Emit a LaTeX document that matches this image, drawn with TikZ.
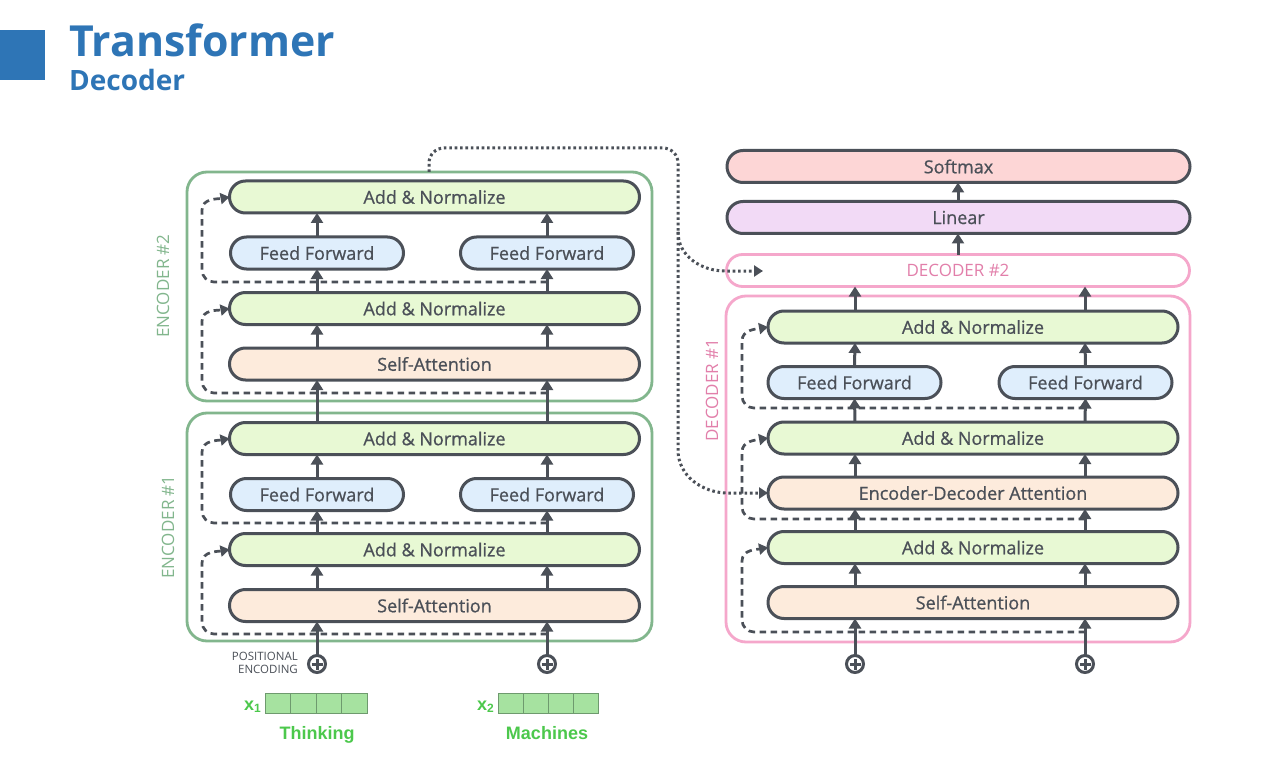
\documentclass[tikz,border=0pt]{standalone}
\usepackage{fontspec}
\setmainfont{Open Sans}
\newfontfamily\boxfont{Open Sans}[FakeBold=0.8]
\newfontfamily\arialfont{Liberation Sans}
\usetikzlibrary{arrows.meta,calc}
\definecolor{dgray}{HTML}{4B5058}
\definecolor{tblue}{HTML}{2E75B6}
\definecolor{encgreen}{HTML}{82B68D}
\definecolor{decpink}{HTML}{F5A7CB}
\definecolor{decpinktxt}{HTML}{E27FAA}
\definecolor{anfill}{HTML}{E8F9D4}
\definecolor{fffill}{HTML}{DFEEFC}
\definecolor{safill}{HTML}{FDEBDC}
\definecolor{smfill}{HTML}{FDD6D6}
\definecolor{linfill}{HTML}{F2DAF6}
\definecolor{vecfill}{HTML}{A6E2A0}
\definecolor{vecline}{HTML}{6E9A6E}
\definecolor{wordgreen}{HTML}{4CC84C}
\begin{document}
\begin{tikzpicture}[x=1pt,y=-1pt,
  blk/.style={draw=dgray, line width=3pt, rounded corners=16pt, minimum height=32pt,
    inner sep=0pt, outer sep=0pt, text=dgray, font=\boxfont\fontsize{18}{18}\selectfont},
  anbox/.style={blk, fill=anfill, minimum width=410pt},
  sabox/.style={blk, fill=safill, minimum width=410pt},
  ffbox/.style={blk, fill=fffill, minimum width=173pt},
  encbox/.style={draw=encgreen, line width=2.8pt, rounded corners=20pt, minimum width=465pt, inner sep=0pt, outer sep=0pt},
  decbox/.style={draw=decpink, line width=2.8pt, rounded corners=20pt, inner sep=0pt, outer sep=0pt},
  up/.style={draw=dgray, line width=3pt, -{Triangle[length=10pt,width=12pt]}},
  resid/.style={draw=dgray, line width=2.7pt, dash pattern=on 6.5pt off 4.5pt, -{Triangle[length=9pt,width=11pt]}},
  dots/.style={draw=dgray, line width=3pt, dash pattern=on 2.6pt off 2.8pt},
  plusc/.style={circle, draw=dgray, line width=3pt, minimum size=17pt, inner sep=0pt, outer sep=0pt,
    path picture={\draw[dgray, line width=3pt] ($(path picture bounding box.center)+(-5.5pt,0)$) -- ++(11pt,0)
      ($(path picture bounding box.center)+(0,-5.5pt)$) -- ++(0,11pt);}},
  cell/.style={draw=vecline, fill=vecfill, line width=0.9pt, minimum height=20pt, inner sep=0pt},
  word/.style={text=wordgreen, anchor=base, inner sep=0pt, font=\arialfont\bfseries\fontsize{18}{18}\selectfont},
  vlabel/.style={rotate=90, font=\fontsize{17}{17}\selectfont},
]
\useasboundingbox (0,0) rectangle (1269,770);
\fill[white] (0,0) rectangle (1269,770);

% ---------- title ----------
\fill[tblue] (0,30) rectangle (45,80);
\node[anchor=base west, inner sep=0pt, text=tblue, font=\bfseries\fontsize{42.8}{42.8}\selectfont] (title) at (69,57) {Transformer};
\node[anchor=base west, inner sep=0pt, text=tblue, font=\bfseries\fontsize{28}{28}\selectfont] (subtitle) at (69,91) {Decoder};

% column coordinates
\coordinate (cL) at (317,0);
\coordinate (cR) at (547,0);
\coordinate (dL) at (855,0);
\coordinate (dR) at (1085,0);
\coordinate (dM) at (958,0);

% ---------- encoders ----------
\node[encbox, minimum height=229pt] (enc2) at (419.5,286.5) {};
\node[encbox, minimum height=228pt] (enc1) at (419.5,527) {};
\node[vlabel, text=encgreen] (enc2lbl) at (163,286) {ENCODER \#2};
\node[vlabel, text=encgreen] (enc1lbl) at (168,527) {ENCODER \#1};

% encoder 2 blocks
\node[anbox] (e2an2) at (434.5,197) {Add \& Normalize};
\node[ffbox] (e2ffL) at (317,253) {Feed Forward};
\node[ffbox] (e2ffR) at (547,253) {Feed Forward};
\node[anbox] (e2an1) at (434.5,308.5) {Add \& Normalize};
\node[sabox] (e2sa) at (434.5,364) {Self-Attention};
% encoder 1 blocks
\node[anbox] (e1an2) at (434.5,438.5) {Add \& Normalize};
\node[ffbox] (e1ffL) at (317,494.5) {Feed Forward};
\node[ffbox] (e1ffR) at (547,494.5) {Feed Forward};
\node[anbox] (e1an1) at (434.5,549.5) {Add \& Normalize};
\node[sabox] (e1sa) at (434.5,605.5) {Self-Attention};

% plus signs and inputs (encoder)
\node[plusc] (epL) at (317,664) {};
\node[plusc] (epR) at (547,664) {};
\node[anchor=east, align=right, text=dgray, inner sep=0pt, font=\fontsize{11.5}{12.5}\selectfont] (posenc) at (298,663) {POSITIONAL\\ENCODING};

\node[cell, minimum width=25.5pt] (x1a) at (277.75,703) {};
\node[cell, minimum width=25.5pt] (x1b) at (303.25,703) {};
\node[cell, minimum width=25.5pt] (x1c) at (328.75,703) {};
\node[cell, minimum width=25.5pt] (x1d) at (354.25,703) {};
\node[cell, minimum width=25pt] (x2a) at (510.5,703) {};
\node[cell, minimum width=25pt] (x2b) at (535.5,703) {};
\node[cell, minimum width=25pt] (x2c) at (560.5,703) {};
\node[cell, minimum width=25pt] (x2d) at (585.5,703) {};
\node[anchor=base east, inner sep=0pt, text=wordgreen, font=\arialfont\bfseries\fontsize{18}{18}\selectfont] (x1lbl) at (261,710) {x\raisebox{-2pt}{\fontsize{12}{12}\selectfont 1}};
\node[anchor=base east, inner sep=0pt, text=wordgreen, font=\arialfont\bfseries\fontsize{18}{18}\selectfont] (x2lbl) at (494,710) {x\raisebox{-2pt}{\fontsize{12}{12}\selectfont 2}};
\node[word] (w1) at (317,739) {Thinking};
\node[word] (w2) at (547,739) {Machines};

% encoder solid arrows
\foreach \c in {cL,cR}{
  \draw[up] (epL.north -| \c) -- (e1sa.south -| \c);
  \draw[up] (e1sa.north -| \c) -- (e1an1.south -| \c);
  \draw[up] (e1an2.north -| \c) -- (e2sa.south -| \c);
  \draw[up] (e2sa.north -| \c) -- (e2an1.south -| \c);
}
\draw[up] (e1an1.north -| cL) -- (e1ffL.south);
\draw[up] (e1an1.north -| cR) -- (e1ffR.south);
\draw[up] (e1ffL.north) -- (e1an2.south -| cL);
\draw[up] (e1ffR.north) -- (e1an2.south -| cR);
\draw[up] (e2an1.north -| cL) -- (e2ffL.south);
\draw[up] (e2an1.north -| cR) -- (e2ffR.south);
\draw[up] (e2ffL.north) -- (e2an2.south -| cL);
\draw[up] (e2ffR.north) -- (e2an2.south -| cR);

% encoder residual (dashed)
\coordinate (er1) at (547,634);
\coordinate (er2) at (547,523);
\coordinate (er3) at (547,393);
\coordinate (er4) at (547,282);
\draw[resid] (er1) -- (214,634) to[out=180,in=270] (202,622) -- (202,563) to[out=90,in=190] (e1an1.west);
\draw[resid] (er2) -- (214,523) to[out=180,in=270] (202,511) -- (202,452) to[out=90,in=190] (e1an2.west);
\draw[resid] (er3) -- (214,393) to[out=180,in=270] (202,381) -- (202,321) to[out=90,in=190] (e2an1.west);
\draw[resid] (er4) -- (214,282) to[out=180,in=270] (202,270) -- (202,210) to[out=90,in=190] (e2an2.west);

% ---------- decoder ----------
\node[blk, fill=smfill, minimum width=463pt] (softmax) at (958.5,166.5) {Softmax};
\node[blk, fill=linfill, minimum width=463pt] (linear) at (958.5,217.5) {Linear};
\node[decbox, rounded corners=16pt, fill=white, minimum width=463pt, minimum height=32pt, text=decpinktxt, font=\fontsize{17}{17}\selectfont] (dec2) at (958,270.5) {DECODER \#2};
\node[decbox, minimum width=464pt, minimum height=346pt] (dec1) at (958,469) {};
\node[vlabel, text=decpinktxt] (dec1lbl) at (712,390) {DECODER \#1};

\node[anbox] (dan3) at (973,327) {Add \& Normalize};
\node[ffbox] (dffL) at (854.5,382.5) {Feed Forward};
\node[ffbox] (dffR) at (1085.5,382.5) {Feed Forward};
\node[anbox] (dan2) at (973,438) {Add \& Normalize};
\node[sabox] (deda) at (973,493) {Encoder-Decoder Attention};
\node[anbox] (dan1) at (973,547.5) {Add \& Normalize};
\node[sabox] (dsa) at (973,602.5) {Self-Attention};

\node[plusc] (dpL) at (855,664) {};
\node[plusc] (dpR) at (1085,664) {};

\draw[up] (linear.north -| dM) -- (softmax.south -| dM);
\draw[up] (dec2.north -| dM) -- (linear.south -| dM);
\foreach \c in {dL,dR}{
  \draw[up] (dpL.north -| \c) -- (dsa.south -| \c);
  \draw[up] (dsa.north -| \c) -- (dan1.south -| \c);
  \draw[up] (dan1.north -| \c) -- (deda.south -| \c);
  \draw[up] (deda.north -| \c) -- (dan2.south -| \c);
  \draw[up] (dan3.north -| \c) -- (dec2.south -| \c);
}
\draw[up] (dan2.north -| dL) -- (dffL.south);
\draw[up] (dan2.north -| dR) -- (dffR.south);
\draw[up] (dffL.north) -- (dan3.south -| dL);
\draw[up] (dffR.north) -- (dan3.south -| dR);

\coordinate (dr1) at (1085,632);
\coordinate (dr2) at (1085,519);
\coordinate (dr3) at (1085,408);
\draw[resid] (dr1) -- (754,632) to[out=180,in=270] (742,620) -- (742,561) to[out=90,in=190] (dan1.west);
\draw[resid] (dr2) -- (754,519) to[out=180,in=270] (742,507) -- (742,452) to[out=90,in=190] (dan2.west);
\draw[resid] (dr3) -- (754,408) to[out=180,in=270] (742,396) -- (742,341) to[out=90,in=190] (dan3.west);

% ---------- encoder output to decoders (dotted) ----------
\coordinate (branch) at (678,232);
\coordinate (d2in) at (763,271);
\draw[dots] (enc2.north -| 429,0) -- (429,163) to[out=90,in=180] (444,148) -- (663,148) to[out=0,in=90] (678,163) -- (branch);
\draw[dots, -{Triangle[length=9pt,width=11pt]}] (branch) to[out=270,in=180] (725,271) -- (d2in);
\draw[dots, -{Triangle[length=9pt,width=11pt]}] (branch) -- (678,450) to[out=270,in=180] (728,493) -- (deda.west);
\end{tikzpicture}
\end{document}
